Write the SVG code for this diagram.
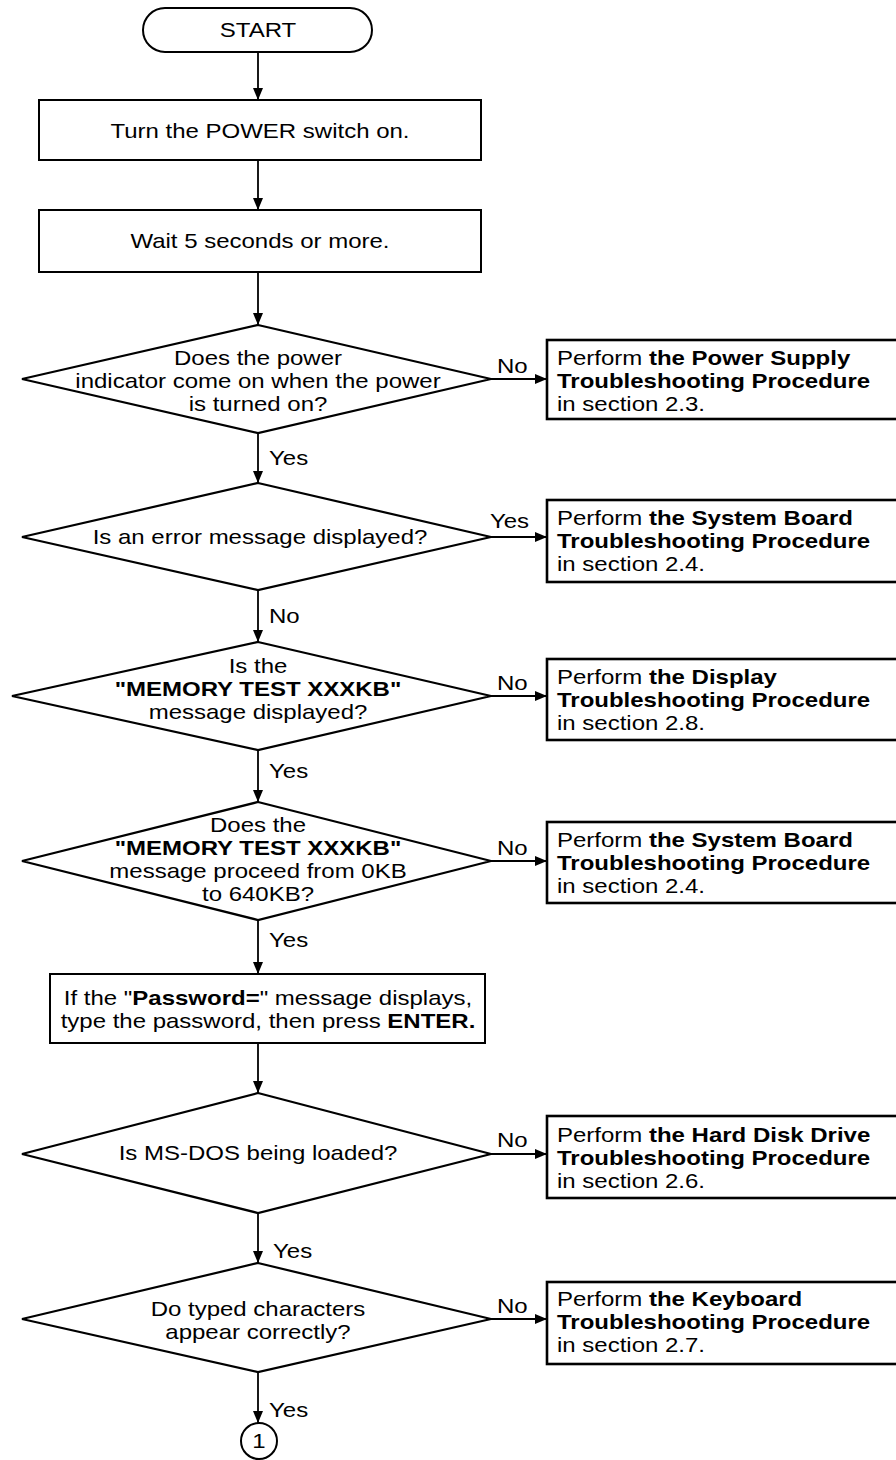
<svg xmlns="http://www.w3.org/2000/svg" width="896" height="1460" viewBox="0 0 896 1460">
<style>
text{font-family:"Liberation Sans",Arial,Helvetica,sans-serif;font-size:20px;fill:#000}
.c{text-anchor:middle}
.b{font-weight:bold}
.box{fill:#fff;stroke:#000;stroke-width:2}
.res{fill:#fff;stroke:#000;stroke-width:2.6}
.dia{fill:#fff;stroke:#000;stroke-width:2.2}
.ln{fill:none;stroke:#000;stroke-width:1.8;marker-end:url(#ah)}
</style>
<defs>
<marker id="ah" markerWidth="12" markerHeight="10" refX="12" refY="5" orient="auto" markerUnits="userSpaceOnUse">
<path d="M0,0 L12,5 L0,10 Z" fill="#000"/>
</marker>
</defs>
<rect width="896" height="1460" fill="#fff"/>

<g id="connectors">
<line class="ln" x1="258" y1="52" x2="258" y2="100"/>
<line class="ln" x1="258" y1="160" x2="258" y2="210"/>
<line class="ln" x1="258" y1="272" x2="258" y2="325"/>
<line class="ln" x1="491" y1="379" x2="547" y2="379"/>
<line class="ln" x1="258" y1="433" x2="258" y2="483"/>
<line class="ln" x1="491" y1="537" x2="547" y2="537"/>
<line class="ln" x1="258" y1="590" x2="258" y2="642"/>
<line class="ln" x1="491" y1="696" x2="547" y2="696"/>
<line class="ln" x1="258" y1="750" x2="258" y2="802"/>
<line class="ln" x1="491" y1="861" x2="547" y2="861"/>
<line class="ln" x1="258" y1="920" x2="258" y2="974"/>
<line class="ln" x1="258" y1="1043" x2="258" y2="1093"/>
<line class="ln" x1="491" y1="1154" x2="547" y2="1154"/>
<line class="ln" x1="258" y1="1213" x2="258" y2="1263"/>
<line class="ln" x1="491" y1="1319" x2="547" y2="1319"/>
<line class="ln" x1="258" y1="1372" x2="258" y2="1423"/>
<g transform="scale(1.2 1)">
<text x="414.17" y="373">No</text>
<text x="224.17" y="465">Yes</text>
<text x="408.33" y="528">Yes</text>
<text x="224.17" y="623">No</text>
<text x="414.17" y="690">No</text>
<text x="224.17" y="778">Yes</text>
<text x="414.17" y="855">No</text>
<text x="224.17" y="947">Yes</text>
<text x="414.17" y="1147">No</text>
<text x="227.5" y="1258">Yes</text>
<text x="414.17" y="1313">No</text>
<text x="224.17" y="1417">Yes</text>
</g>
</g>

<g id="start">
<rect x="143" y="8" width="229" height="44" rx="22" ry="22" class="box"/>
<g transform="scale(1.2 1)"><text class="c" x="215" y="37">START</text></g>
</g>

<g id="power-on">
<rect x="39" y="100" width="442" height="60" class="box"/>
<g transform="scale(1.2 1)"><text class="c" x="216.67" y="138">Turn the POWER switch on.</text></g>
</g>

<g id="wait">
<rect x="39" y="210" width="442" height="62" class="box"/>
<g transform="scale(1.2 1)"><text class="c" x="216.67" y="248">Wait 5 seconds or more.</text></g>
</g>

<g id="d1">
<polygon points="258,325 491,379 258,433 22,379" class="dia"/>
<g transform="scale(1.2 1)">
<text class="c" x="215" y="365">Does the power</text>
<text class="c" x="215" y="388">indicator come on when the power</text>
<text class="c" x="215" y="411">is turned on?</text>
</g>
</g>

<g id="r1">
<rect x="547" y="340" width="352" height="79" class="res"/>
<g transform="scale(1.2 1)">
<text x="464.17" y="365">Perform <tspan class="b">the Power Supply</tspan></text>
<text x="464.17" y="388" class="b">Troubleshooting Procedure</text>
<text x="464.17" y="411">in section 2.3.</text>
</g>
</g>

<g id="d2">
<polygon points="258,483 491,537 258,590 22,537" class="dia"/>
<g transform="scale(1.2 1)"><text class="c" x="216.67" y="544">Is an error message displayed?</text></g>
</g>

<g id="r2">
<rect x="547" y="500" width="352" height="82" class="res"/>
<g transform="scale(1.2 1)">
<text x="464.17" y="525">Perform <tspan class="b">the System Board</tspan></text>
<text x="464.17" y="548" class="b">Troubleshooting Procedure</text>
<text x="464.17" y="571">in section 2.4.</text>
</g>
</g>

<g id="d3">
<polygon points="258,642 491,696 258,750 12,696" class="dia"/>
<g transform="scale(1.2 1)">
<text class="c" x="215" y="673">Is the</text>
<text class="c b" x="215" y="696">"MEMORY TEST XXXKB"</text>
<text class="c" x="215" y="719">message displayed?</text>
</g>
</g>

<g id="r3">
<rect x="547" y="659" width="352" height="81" class="res"/>
<g transform="scale(1.2 1)">
<text x="464.17" y="684">Perform <tspan class="b">the Display</tspan></text>
<text x="464.17" y="707" class="b">Troubleshooting Procedure</text>
<text x="464.17" y="730">in section 2.8.</text>
</g>
</g>

<g id="d4">
<polygon points="258,802 491,861 258,920 22,861" class="dia"/>
<g transform="scale(1.2 1)">
<text class="c" x="215" y="832">Does the</text>
<text class="c b" x="215" y="855">"MEMORY TEST XXXKB"</text>
<text class="c" x="215" y="878">message proceed from 0KB</text>
<text class="c" x="215" y="901">to 640KB?</text>
</g>
</g>

<g id="r4">
<rect x="547" y="822" width="352" height="81" class="res"/>
<g transform="scale(1.2 1)">
<text x="464.17" y="847">Perform <tspan class="b">the System Board</tspan></text>
<text x="464.17" y="870" class="b">Troubleshooting Procedure</text>
<text x="464.17" y="893">in section 2.4.</text>
</g>
</g>

<g id="password">
<rect x="50" y="974" width="435" height="69" class="box"/>
<g transform="scale(1.2 1)">
<text class="c" x="223.33" y="1005">If the "<tspan class="b">Password=</tspan>" message displays,</text>
<text class="c" x="223.33" y="1028">type the password, then press <tspan class="b">ENTER.</tspan></text>
</g>
</g>

<g id="d5">
<polygon points="258,1093 491,1154 258,1213 22,1154" class="dia"/>
<g transform="scale(1.2 1)"><text class="c" x="215" y="1160">Is MS-DOS being loaded?</text></g>
</g>

<g id="r5">
<rect x="547" y="1116" width="352" height="82" class="res"/>
<g transform="scale(1.2 1)">
<text x="464.17" y="1142">Perform <tspan class="b">the Hard Disk Drive</tspan></text>
<text x="464.17" y="1165" class="b">Troubleshooting Procedure</text>
<text x="464.17" y="1188">in section 2.6.</text>
</g>
</g>

<g id="d6">
<polygon points="258,1263 491,1319 258,1372 22,1319" class="dia"/>
<g transform="scale(1.2 1)">
<text class="c" x="215" y="1316">Do typed characters</text>
<text class="c" x="215" y="1339">appear correctly?</text>
</g>
</g>

<g id="r6">
<rect x="547" y="1282" width="352" height="82" class="res"/>
<g transform="scale(1.2 1)">
<text x="464.17" y="1306">Perform <tspan class="b">the Keyboard</tspan></text>
<text x="464.17" y="1329" class="b">Troubleshooting Procedure</text>
<text x="464.17" y="1352">in section 2.7.</text>
</g>
</g>

<g id="connector-1">
<circle cx="259" cy="1441" r="18" class="box"/>
<g transform="scale(1.2 1)"><text class="c" x="215.83" y="1448">1</text></g>
</g>
</svg>
